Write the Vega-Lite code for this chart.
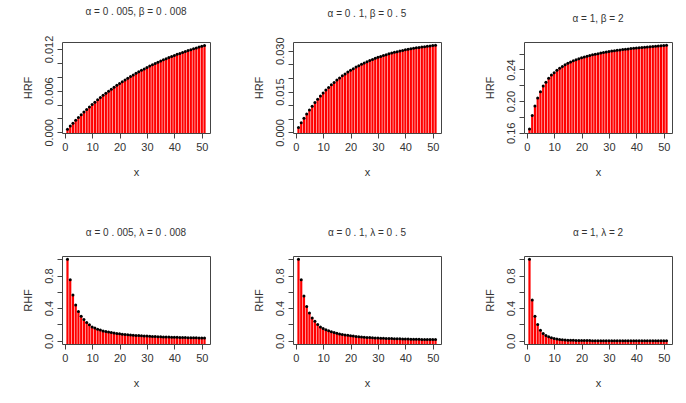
{
  "$schema": "https://vega.github.io/schema/vega-lite/v6.json",
  "background": "white",
  "padding": {"left": 21, "top": 6, "right": 5, "bottom": 0},
  "spacing": 49,
  "config": {
    "font": "Liberation Sans",
    "view": {"stroke": "#444", "strokeWidth": 1},
    "axis": {"grid": false, "domain": false, "tickColor": "#444", "tickSize": 5, "labelColor": "#333", "labelFontSize": 11, "titleFontSize": 11, "titleFontWeight": "normal", "titleColor": "#333", "labelPadding": 3},
    "axisX": {"titlePadding": 14},
    "axisY": {"labelAngle": -90, "labelAlign": "center", "labelBaseline": "bottom", "titlePadding": 10},
    "title": {"fontSize": 10, "fontWeight": "normal", "color": "#333", "offset": 18}
  },
  "datasets": {
    "p1": [{"x":1,"y":0.00045},{"x":2,"y":0.00089},{"x":3,"y":0.00132},{"x":4,"y":0.00174},{"x":5,"y":0.00214},{"x":6,"y":0.00253},{"x":7,"y":0.00292},{"x":8,"y":0.00329},{"x":9,"y":0.00365},{"x":10,"y":0.004},{"x":11,"y":0.00434},{"x":12,"y":0.00468},{"x":13,"y":0.005},{"x":14,"y":0.00532},{"x":15,"y":0.00562},{"x":16,"y":0.00592},{"x":17,"y":0.00621},{"x":18,"y":0.00649},{"x":19,"y":0.00677},{"x":20,"y":0.00703},{"x":21,"y":0.00729},{"x":22,"y":0.00754},{"x":23,"y":0.00779},{"x":24,"y":0.00803},{"x":25,"y":0.00826},{"x":26,"y":0.00849},{"x":27,"y":0.00871},{"x":28,"y":0.00892},{"x":29,"y":0.00913},{"x":30,"y":0.00933},{"x":31,"y":0.00953},{"x":32,"y":0.00972},{"x":33,"y":0.0099},{"x":34,"y":0.01008},{"x":35,"y":0.01026},{"x":36,"y":0.01043},{"x":37,"y":0.0106},{"x":38,"y":0.01076},{"x":39,"y":0.01091},{"x":40,"y":0.01107},{"x":41,"y":0.01122},{"x":42,"y":0.01136},{"x":43,"y":0.0115},{"x":44,"y":0.01164},{"x":45,"y":0.01177},{"x":46,"y":0.0119},{"x":47,"y":0.01203},{"x":48,"y":0.01215},{"x":49,"y":0.01227},{"x":50,"y":0.01238},{"x":51,"y":0.0125}],
    "p2": [{"x":1,"y":0.00184},{"x":2,"y":0.00358},{"x":3,"y":0.00522},{"x":4,"y":0.00678},{"x":5,"y":0.00825},{"x":6,"y":0.00964},{"x":7,"y":0.01095},{"x":8,"y":0.0122},{"x":9,"y":0.01338},{"x":10,"y":0.01449},{"x":11,"y":0.01555},{"x":12,"y":0.01654},{"x":13,"y":0.01749},{"x":14,"y":0.01838},{"x":15,"y":0.01922},{"x":16,"y":0.02002},{"x":17,"y":0.02078},{"x":18,"y":0.02149},{"x":19,"y":0.02217},{"x":20,"y":0.02281},{"x":21,"y":0.02341},{"x":22,"y":0.02398},{"x":23,"y":0.02452},{"x":24,"y":0.02504},{"x":25,"y":0.02552},{"x":26,"y":0.02598},{"x":27,"y":0.02641},{"x":28,"y":0.02682},{"x":29,"y":0.02721},{"x":30,"y":0.02758},{"x":31,"y":0.02792},{"x":32,"y":0.02825},{"x":33,"y":0.02856},{"x":34,"y":0.02886},{"x":35,"y":0.02913},{"x":36,"y":0.0294},{"x":37,"y":0.02965},{"x":38,"y":0.02988},{"x":39,"y":0.0301},{"x":40,"y":0.03031},{"x":41,"y":0.03051},{"x":42,"y":0.0307},{"x":43,"y":0.03088},{"x":44,"y":0.03105},{"x":45,"y":0.03121},{"x":46,"y":0.03136},{"x":47,"y":0.0315},{"x":48,"y":0.03164},{"x":49,"y":0.03177},{"x":50,"y":0.03189},{"x":51,"y":0.032}],
    "p3": [{"x":1,"y":0.165},{"x":2,"y":0.182},{"x":3,"y":0.194},{"x":4,"y":0.204},{"x":5,"y":0.212},{"x":6,"y":0.219},{"x":7,"y":0.224},{"x":8,"y":0.229},{"x":9,"y":0.233},{"x":10,"y":0.236},{"x":11,"y":0.239},{"x":12,"y":0.2415},{"x":13,"y":0.2438},{"x":14,"y":0.246},{"x":15,"y":0.2478},{"x":16,"y":0.2495},{"x":17,"y":0.251},{"x":18,"y":0.2523},{"x":19,"y":0.2535},{"x":20,"y":0.2547},{"x":21,"y":0.2557},{"x":22,"y":0.2567},{"x":23,"y":0.2576},{"x":24,"y":0.2585},{"x":25,"y":0.2593},{"x":26,"y":0.26},{"x":27,"y":0.2607},{"x":28,"y":0.2614},{"x":29,"y":0.262},{"x":30,"y":0.2626},{"x":31,"y":0.2632},{"x":32,"y":0.2637},{"x":33,"y":0.2642},{"x":34,"y":0.2647},{"x":35,"y":0.2652},{"x":36,"y":0.2656},{"x":37,"y":0.266},{"x":38,"y":0.2664},{"x":39,"y":0.2668},{"x":40,"y":0.2672},{"x":41,"y":0.2675},{"x":42,"y":0.2679},{"x":43,"y":0.2682},{"x":44,"y":0.2685},{"x":45,"y":0.2688},{"x":46,"y":0.2691},{"x":47,"y":0.2694},{"x":48,"y":0.2697},{"x":49,"y":0.2699},{"x":50,"y":0.2702},{"x":51,"y":0.2705}],
    "p4": [{"x":1,"y":1},{"x":2,"y":0.75},{"x":3,"y":0.56},{"x":4,"y":0.44},{"x":5,"y":0.36},{"x":6,"y":0.3},{"x":7,"y":0.26},{"x":8,"y":0.225},{"x":9,"y":0.195},{"x":10,"y":0.17},{"x":11,"y":0.155},{"x":12,"y":0.142},{"x":13,"y":0.131},{"x":14,"y":0.121},{"x":15,"y":0.113},{"x":16,"y":0.106},{"x":17,"y":0.1},{"x":18,"y":0.094},{"x":19,"y":0.089},{"x":20,"y":0.085},{"x":21,"y":0.081},{"x":22,"y":0.077},{"x":23,"y":0.074},{"x":24,"y":0.071},{"x":25,"y":0.068},{"x":26,"y":0.065},{"x":27,"y":0.063},{"x":28,"y":0.061},{"x":29,"y":0.059},{"x":30,"y":0.057},{"x":31,"y":0.055},{"x":32,"y":0.053},{"x":33,"y":0.052},{"x":34,"y":0.05},{"x":35,"y":0.049},{"x":36,"y":0.047},{"x":37,"y":0.046},{"x":38,"y":0.045},{"x":39,"y":0.044},{"x":40,"y":0.0425},{"x":41,"y":0.0415},{"x":42,"y":0.0405},{"x":43,"y":0.0395},{"x":44,"y":0.0386},{"x":45,"y":0.0378},{"x":46,"y":0.037},{"x":47,"y":0.0362},{"x":48,"y":0.0354},{"x":49,"y":0.0347},{"x":50,"y":0.034},{"x":51,"y":0.0333}],
    "p5": [{"x":1,"y":1},{"x":2,"y":0.75},{"x":3,"y":0.55},{"x":4,"y":0.42},{"x":5,"y":0.34},{"x":6,"y":0.28},{"x":7,"y":0.24},{"x":8,"y":0.2},{"x":9,"y":0.17},{"x":10,"y":0.15},{"x":11,"y":0.135},{"x":12,"y":0.122},{"x":13,"y":0.11},{"x":14,"y":0.1},{"x":15,"y":0.092},{"x":16,"y":0.084},{"x":17,"y":0.077},{"x":18,"y":0.071},{"x":19,"y":0.066},{"x":20,"y":0.061},{"x":21,"y":0.057},{"x":22,"y":0.053},{"x":23,"y":0.05},{"x":24,"y":0.047},{"x":25,"y":0.044},{"x":26,"y":0.041},{"x":27,"y":0.039},{"x":28,"y":0.037},{"x":29,"y":0.035},{"x":30,"y":0.033},{"x":31,"y":0.031},{"x":32,"y":0.03},{"x":33,"y":0.028},{"x":34,"y":0.027},{"x":35,"y":0.026},{"x":36,"y":0.025},{"x":37,"y":0.024},{"x":38,"y":0.023},{"x":39,"y":0.022},{"x":40,"y":0.021},{"x":41,"y":0.02},{"x":42,"y":0.019},{"x":43,"y":0.0185},{"x":44,"y":0.018},{"x":45,"y":0.017},{"x":46,"y":0.0165},{"x":47,"y":0.016},{"x":48,"y":0.0155},{"x":49,"y":0.015},{"x":50,"y":0.0145},{"x":51,"y":0.014}],
    "p6": [{"x":1,"y":1},{"x":2,"y":0.5},{"x":3,"y":0.3},{"x":4,"y":0.2},{"x":5,"y":0.13},{"x":6,"y":0.09},{"x":7,"y":0.065},{"x":8,"y":0.048},{"x":9,"y":0.036},{"x":10,"y":0.027},{"x":11,"y":0.02},{"x":12,"y":0.015},{"x":13,"y":0.012},{"x":14,"y":0.009},{"x":15,"y":0.007},{"x":16,"y":0.0055},{"x":17,"y":0.0045},{"x":18,"y":0.0037},{"x":19,"y":0.003},{"x":20,"y":0.0025},{"x":21,"y":0.0021},{"x":22,"y":0.0018},{"x":23,"y":0.0015},{"x":24,"y":0.0013},{"x":25,"y":0.0011},{"x":26,"y":0.001},{"x":27,"y":0.0009},{"x":28,"y":0.0008},{"x":29,"y":0.0007},{"x":30,"y":0.0006},{"x":31,"y":0.00055},{"x":32,"y":0.0005},{"x":33,"y":0.00045},{"x":34,"y":0.0004},{"x":35,"y":0.00037},{"x":36,"y":0.00034},{"x":37,"y":0.00031},{"x":38,"y":0.00028},{"x":39,"y":0.00026},{"x":40,"y":0.00024},{"x":41,"y":0.00022},{"x":42,"y":0.0002},{"x":43,"y":0.00019},{"x":44,"y":0.00018},{"x":45,"y":0.00017},{"x":46,"y":0.00016},{"x":47,"y":0.00015},{"x":48,"y":0.00014},{"x":49,"y":0.00013},{"x":50,"y":0.00012},{"x":51,"y":0.00011}]
  },
  "vconcat": [
    {"spacing": 41, "hconcat": [
      {"title": "α = 0 . 005, β = 0 . 008", "width": 148, "height": 91, "data": {"name": "p1"},
       "encoding": {
         "x": {"field": "x", "type": "quantitative", "scale": {"domain": [-1, 53], "nice": false}, "axis": {"values": [0,10,20,30,40,50]}},
         "y": {"field": "y", "type": "quantitative", "title": "HRF", "scale": {"domain": [-0.0001, 0.013], "nice": false, "zero": false}, "axis": {"values": [0,0.002,0.004,0.006,0.008,0.01,0.012], "labelExpr": "round(datum.value*1000) % 6 == 0 ? format(datum.value, '.3f') : ''"}}},
       "layer": [
         {"mark": {"type": "rule", "color": "red", "strokeWidth": 2.2, "clip": true}, "encoding": {"y2": {"datum": -0.0001}}},
         {"mark": {"type": "point", "filled": true, "color": "black", "size": 9, "opacity": 1}}
       ]},
      {"title": "α = 0 . 1, β = 0 . 5", "width": 148, "height": 91, "data": {"name": "p2"},
       "encoding": {
         "x": {"field": "x", "type": "quantitative", "scale": {"domain": [-1, 53], "nice": false}, "axis": {"values": [0,10,20,30,40,50]}},
         "y": {"field": "y", "type": "quantitative", "title": "HRF", "scale": {"domain": [-0.0002, 0.0332], "nice": false, "zero": false}, "axis": {"values": [0,0.005,0.01,0.015,0.02,0.025,0.03], "labelExpr": "round(datum.value*1000) % 15 == 0 ? format(datum.value, '.3f') : ''"}}},
       "layer": [
         {"mark": {"type": "rule", "color": "red", "strokeWidth": 2.2, "clip": true}, "encoding": {"y2": {"datum": -0.0002}}},
         {"mark": {"type": "point", "filled": true, "color": "black", "size": 9, "opacity": 1}}
       ]},
      {"title": "α = 1, β = 2", "width": 148, "height": 91, "data": {"name": "p3"},
       "encoding": {
         "x": {"field": "x", "type": "quantitative", "scale": {"domain": [-1, 53], "nice": false}, "axis": {"values": [0,10,20,30,40,50]}},
         "y": {"field": "y", "type": "quantitative", "title": "HRF", "scale": {"domain": [0.1598, 0.2747], "nice": false, "zero": false}, "axis": {"values": [0.16,0.18,0.2,0.22,0.24,0.26], "labelExpr": "round(datum.value*100) % 4 == 0 ? format(datum.value, '.2f') : ''"}}},
       "layer": [
         {"mark": {"type": "rule", "color": "red", "strokeWidth": 2.2, "clip": true}, "encoding": {"y2": {"datum": 0.1598}}},
         {"mark": {"type": "point", "filled": true, "color": "black", "size": 9, "opacity": 1}}
       ]}
    ]},
    {"spacing": 41, "hconcat": [
      {"title": "α = 0 . 005, λ = 0 . 008", "width": 148, "height": 88, "data": {"name": "p4"},
       "encoding": {
         "x": {"field": "x", "type": "quantitative", "scale": {"domain": [-1, 53], "nice": false}, "axis": {"values": [0,10,20,30,40,50]}},
         "y": {"field": "y", "type": "quantitative", "title": "RHF", "scale": {"domain": [-0.04, 1.04], "nice": false, "zero": false}, "axis": {"values": [0,0.2,0.4,0.6,0.8,1], "labelExpr": "round(datum.value*10) % 4 == 0 ? format(datum.value, '.1f') : ''"}}},
       "layer": [
         {"mark": {"type": "rule", "color": "red", "strokeWidth": 2.2, "clip": true}, "encoding": {"y2": {"datum": -0.04}}},
         {"mark": {"type": "point", "filled": true, "color": "black", "size": 9, "opacity": 1}}
       ]},
      {"title": "α = 0 . 1, λ = 0 . 5", "width": 148, "height": 88, "data": {"name": "p5"},
       "encoding": {
         "x": {"field": "x", "type": "quantitative", "scale": {"domain": [-1, 53], "nice": false}, "axis": {"values": [0,10,20,30,40,50]}},
         "y": {"field": "y", "type": "quantitative", "title": "RHF", "scale": {"domain": [-0.04, 1.04], "nice": false, "zero": false}, "axis": {"values": [0,0.2,0.4,0.6,0.8,1], "labelExpr": "round(datum.value*10) % 4 == 0 ? format(datum.value, '.1f') : ''"}}},
       "layer": [
         {"mark": {"type": "rule", "color": "red", "strokeWidth": 2.2, "clip": true}, "encoding": {"y2": {"datum": -0.04}}},
         {"mark": {"type": "point", "filled": true, "color": "black", "size": 9, "opacity": 1}}
       ]},
      {"title": "α = 1, λ = 2", "width": 148, "height": 88, "data": {"name": "p6"},
       "encoding": {
         "x": {"field": "x", "type": "quantitative", "scale": {"domain": [-1, 53], "nice": false}, "axis": {"values": [0,10,20,30,40,50]}},
         "y": {"field": "y", "type": "quantitative", "title": "RHF", "scale": {"domain": [-0.04, 1.04], "nice": false, "zero": false}, "axis": {"values": [0,0.2,0.4,0.6,0.8,1], "labelExpr": "round(datum.value*10) % 4 == 0 ? format(datum.value, '.1f') : ''"}}},
       "layer": [
         {"mark": {"type": "rule", "color": "red", "strokeWidth": 2.2, "clip": true}, "encoding": {"y2": {"datum": -0.04}}},
         {"mark": {"type": "point", "filled": true, "color": "black", "size": 9, "opacity": 1}}
       ]}
    ]}
  ]
}
